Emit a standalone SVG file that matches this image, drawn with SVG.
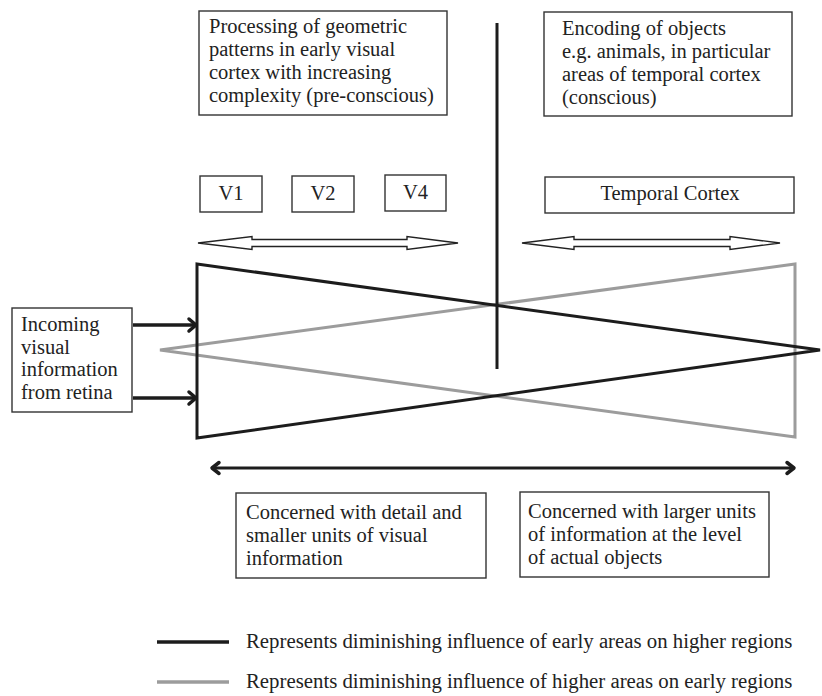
<svg xmlns="http://www.w3.org/2000/svg" width="822" height="696" viewBox="0 0 822 696">
<style>
.box{fill:#fff;stroke:#333;stroke-width:1.4}
.t{font-family:"Liberation Serif","Times New Roman","DejaVu Serif",serif;font-size:20.5px;fill:#222}
.c{text-anchor:middle}
.blk{fill:none;stroke:#1c1c1c;stroke-width:3}
.gry{fill:none;stroke:#9c9c9c;stroke-width:3}
.hollow{fill:#fff;stroke:#222;stroke-width:1.4;stroke-linejoin:miter}
.ar{fill:none;stroke:#1c1c1c;stroke-width:3.5}
.head{fill:none;stroke:#1c1c1c;stroke-width:3.5;stroke-linecap:round;stroke-linejoin:round}
</style>
<rect width="822" height="696" fill="#fff"/>

<g id="early-text">
<rect class="box" x="199" y="11" width="248" height="104"/>
<text class="t" x="209" y="33">Processing of geometric</text>
<text class="t" x="209" y="56">patterns in early visual</text>
<text class="t" x="209" y="79">cortex with increasing</text>
<text class="t" x="209" y="102">complexity (pre-conscious)</text>
</g>

<g id="late-text">
<rect class="box" x="544" y="12" width="248" height="104"/>
<text class="t" x="562" y="35">Encoding of objects</text>
<text class="t" x="562" y="58">e.g. animals, in particular</text>
<text class="t" x="562" y="81">areas of temporal cortex</text>
<text class="t" x="562" y="104">(conscious)</text>
</g>

<g id="v1"><rect class="box" x="200" y="176" width="62" height="36"/><text class="t c" x="231" y="200">V1</text></g>
<g id="v2"><rect class="box" x="292" y="176" width="62" height="36"/><text class="t c" x="323" y="200">V2</text></g>
<g id="v4"><rect class="box" x="385" y="175" width="61" height="36"/><text class="t c" x="415.5" y="199">V4</text></g>
<g id="temporal"><rect class="box" x="545" y="177" width="249" height="36"/><text class="t c" x="670" y="200">Temporal Cortex</text></g>

<g id="incoming">
<rect class="box" x="12" y="308" width="120" height="104"/>
<text class="t" x="21" y="331">Incoming</text>
<text class="t" x="21" y="354">visual</text>
<text class="t" x="21" y="376">information</text>
<text class="t" x="21" y="399">from retina</text>
</g>

<g id="detail-box">
<rect class="box" x="236" y="493" width="250" height="85"/>
<text class="t" x="246" y="519">Concerned with detail and</text>
<text class="t" x="246" y="542">smaller units of visual</text>
<text class="t" x="246" y="565">information</text>
</g>

<g id="objects-box">
<rect class="box" x="520" y="492" width="249" height="85"/>
<text class="t" x="528" y="518">Concerned with larger units</text>
<text class="t" x="528" y="541">of information at the level</text>
<text class="t" x="528" y="564">of actual objects</text>
</g>

<g id="connectors">
<polygon class="hollow" points="198,243 252,236.5 252,239.5 407,239.5 407,236.5 458,243 407,249.5 407,246.5 252,246.5 252,249.5"/>
<polygon class="hollow" points="522,243 574,236.5 574,239.5 730,239.5 730,236.5 780,243 730,249.5 730,246.5 574,246.5 574,249.5"/>

<polygon class="gry" points="160,350 795,264 795,437"/>
<polygon class="blk" points="197,264 820,350 197,438"/>
<line x1="497" y1="23" x2="497" y2="369" stroke="#1c1c1c" stroke-width="3"/>

<line class="ar" x1="133" y1="325" x2="195" y2="325"/>
<path class="head" d="M189,319 L196,325 L189,331"/>
<line class="ar" x1="133" y1="398" x2="195" y2="398"/>
<path class="head" d="M189,392 L196,398 L189,404"/>

<line x1="213" y1="468" x2="793" y2="468" stroke="#1c1c1c" stroke-width="3"/>
<path class="head" d="M219,462.5 L212,468 L219,473.5" stroke-width="3.5"/>
<path class="head" d="M787,462.5 L794,468 L787,473.5" stroke-width="3.5"/>
</g>

<g id="legend">
<line x1="157" y1="642" x2="229" y2="642" stroke="#1c1c1c" stroke-width="3.5"/>
<text class="t" x="246" y="648" style="font-size:20.8px">Represents diminishing influence of early areas on higher regions</text>
<line x1="157" y1="682" x2="229" y2="682" stroke="#9c9c9c" stroke-width="3.5"/>
<text class="t" x="246" y="688" style="font-size:20.8px">Represents diminishing influence of higher areas on early regions</text>
</g>
</svg>
